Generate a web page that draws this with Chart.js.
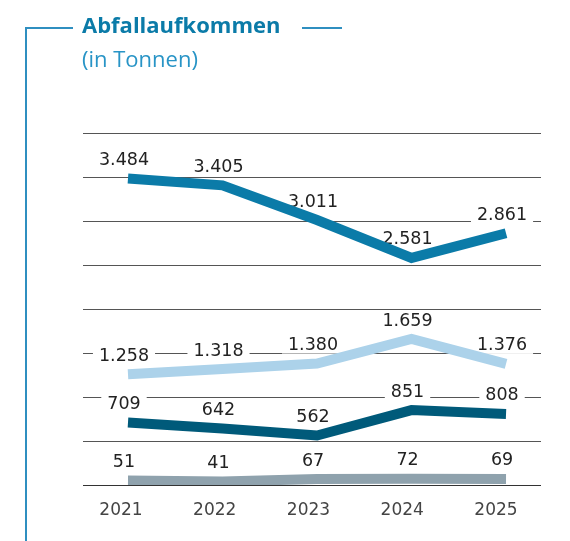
<!DOCTYPE html>
<html>
<head>
<meta charset="utf-8">
<script src="https://cdn.jsdelivr.net/npm/chart.js@4/dist/chart.umd.min.js"></script>
<style>
  html, body { margin:0; padding:0; background:#fff; }
  #wrap { position:relative; width:570px; height:541px; overflow:hidden; }
  #c { position:absolute; left:0; top:0; }
  .frameL { position:absolute; left:25px; top:27px; width:2px; height:520px; background:#2f8fc0; }
  .frameT1 { position:absolute; left:25px; top:27px; width:48px; height:2px; background:#2f8fc0; }
  .frameT2 { position:absolute; left:302px; top:27px; width:40px; height:2px; background:#2f8fc0; }
  .title { position:absolute; left:82px; top:9px; font-family:"Open Sans"; font-weight:700; font-size:22px; color:#0b7ba8; white-space:nowrap; }
  .sub { position:absolute; left:82px; top:43px; font-family:"Open Sans"; font-size:22px; color:#2894c6; white-space:nowrap; }
</style>
</head>
<body>
<div id="wrap">
  <canvas id="c" width="570" height="541"></canvas>
  <div class="frameL"></div>
  <div class="frameT1"></div>
  <div class="frameT2"></div>
  <div class="title">Abfallaufkommen</div>
  <div class="sub">(in Tonnen)</div>
</div>
<script>
const years = [2021, 2022, 2023, 2024, 2025];
const seriesTop = [3484, 3405, 3011, 2581, 2861];
const seriesLight = [1258, 1318, 1380, 1659, 1376];
const seriesDark = [709, 642, 562, 851, 808];
const seriesGray = [51, 41, 67, 72, 69];
const yTicks = [0, 500, 1000, 1500, 2000, 2500, 3000, 3500, 4000];

function fmt(v) {
  return String(v).replace(/\B(?=(\d{3})+(?!\d))/g, '.');
}
function pts(arr) { return arr.map((v, i) => ({ x: years[i], y: v })); }

const labelPlugin = {
  id: 'valLabels',
  beforeDatasetsDraw(chart) {
    const ctx = chart.ctx;
    ctx.save();
    ctx.font = '17.5px "DejaVu Sans"';
    ctx.textAlign = 'center';
    ctx.textBaseline = 'middle';
    chart.data.datasets.forEach((ds, di) => {
      const meta = chart.getDatasetMeta(di);
      meta.data.forEach((p, i) => {
        const t = fmt(ds.data[i].y);
        const x = p.x - 4, y = p.y - 18;
        const w = ctx.measureText(t).width;
        ctx.fillStyle = '#fff';
        ctx.fillRect(x - w / 2 - 6, y - 8, w + 12, 16);
        ctx.fillStyle = '#222';
        ctx.fillText(t, x, y);
      });
    });
    ctx.restore();
  }
};

const common = { fill: false, tension: 0, borderWidth: 10, pointRadius: 0, borderJoinStyle: 'miter', borderCapStyle: 'butt', xAxisID: 'x' };

new Chart(document.getElementById('c'), {
  type: 'line',
  data: {
    datasets: [
      Object.assign({ data: pts(seriesTop), borderColor: '#0b7ba8' }, common),
      Object.assign({ data: pts(seriesLight), borderColor: '#acd2ea' }, common),
      Object.assign({ data: pts(seriesDark), borderColor: '#005a7a' }, common),
      Object.assign({ data: pts(seriesGray), borderColor: '#8fa2ad' }, common)
    ]
  },
  options: {
    responsive: false,
    animation: false,
    devicePixelRatio: 1,
    layout: { padding: { left: 83, right: 29, top: 133, bottom: 0 } },
    plugins: { legend: { display: false }, tooltip: { enabled: false } },
    scales: {
      x: { type: 'linear', display: false, min: 2020.524, max: 2025.37 },
      xl: {
        type: 'linear', position: 'bottom', min: 2020.595, max: 2025.48,
        afterBuildTicks: ax => { ax.ticks = years.map(v => ({ value: v })); },
        afterFit: s => { s.height = 56; },
        grid: { display: false, drawTicks: false },
        border: { display: false },
        ticks: { padding: 15, color: '#444', font: { family: 'DejaVu Sans', size: 17 }, callback: v => String(v), maxRotation: 0, autoSkip: false }
      },
      y: {
        min: 0, max: 4000,
        afterBuildTicks: ax => { ax.ticks = yTicks.map(v => ({ value: v })); },
        afterFit: s => { s.width = 0; },
        ticks: { display: false },
        border: { display: false },
        grid: { drawTicks: false, lineWidth: 1, color: ctx => ctx.tick && ctx.tick.value === 0 ? '#333' : '#555' }
      }
    }
  },
  plugins: [labelPlugin]
});
</script>
</body>
</html>
